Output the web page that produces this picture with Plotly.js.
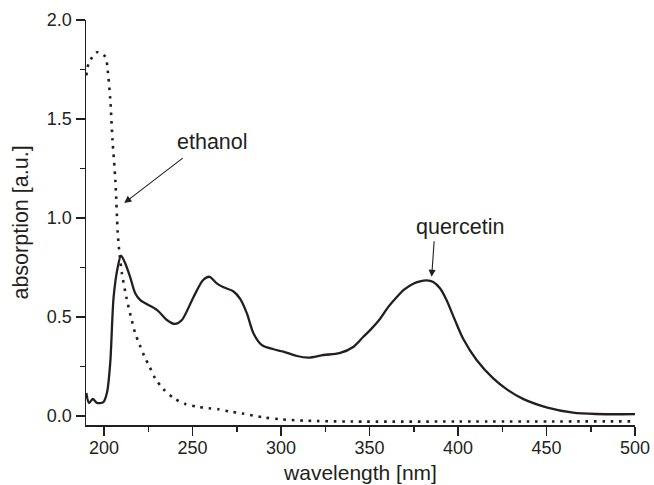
<!DOCTYPE html>
<html>
<head>
<meta charset="utf-8">
<script src="https://cdn.plot.ly/plotly-3.0.1.min.js"></script>
<style>
html,body{margin:0;padding:0;background:#fff;}
#chart{width:654px;height:485px;}
</style>
</head>
<body>
<div id="chart"></div>
<script>
// Quercetin absorption spectrum (solid line)
const quercetinWavelength = [190, 191.5, 193.6, 196, 199.6, 201.7, 203.5, 205.4, 207.7, 209.6, 212, 214.8, 217.6, 220.5, 230, 235.5, 240, 244, 250.5, 256, 259.6, 263.7, 267.5, 273, 277, 280.7, 284.4, 289, 295.7, 301.3, 309, 315.5, 324, 333, 341, 346.5, 351, 355.9, 360.5, 365.3, 369.5, 374.7, 378.5, 382.3, 386, 389.8, 393.5, 398, 402.9, 410.5, 419.9, 428, 437, 450, 465, 478, 500];
const quercetinAbsorption = [0.116, 0.066, 0.086, 0.066, 0.07, 0.12, 0.27, 0.60, 0.75, 0.81, 0.77, 0.70, 0.62, 0.585, 0.535, 0.485, 0.465, 0.485, 0.60, 0.687, 0.703, 0.67, 0.65, 0.63, 0.59, 0.518, 0.418, 0.359, 0.337, 0.325, 0.303, 0.295, 0.308, 0.317, 0.35, 0.40, 0.44, 0.49, 0.55, 0.60, 0.638, 0.668, 0.68, 0.685, 0.677, 0.645, 0.586, 0.49, 0.39, 0.283, 0.19, 0.132, 0.085, 0.044, 0.017, 0.01, 0.009];

// Ethanol absorption spectrum (dotted line)
const ethanolWavelength = [190, 191.3, 196, 200.7, 202, 203.5, 204.8, 206.4, 207.7, 208.5, 210.1, 212.6, 215.2, 217.6, 220.1, 222.7, 225.7, 228.9, 233.6, 239.6, 245.9, 252.5, 259, 264.7, 271.3, 278, 290, 300, 314.5, 340, 400, 500];
const ethanolAbsorption = [1.72, 1.78, 1.837, 1.815, 1.75, 1.60, 1.39, 1.19, 0.93, 0.84, 0.72, 0.60, 0.50, 0.418, 0.36, 0.303, 0.249, 0.19, 0.135, 0.089, 0.061, 0.047, 0.039, 0.034, 0.022, 0.013, -0.007, -0.017, -0.024, -0.028, -0.028, -0.027];

// Axis ticks
const xTickValues = [200, 250, 300, 350, 400, 450, 500];
const xTickLabels = ["200", "250", "300", "350", "400", "450", "500"];
const yTickValues = [0, 0.5, 1.0, 1.5, 2.0];
const yTickLabels = ["0.0", "0.5", "1.0", "1.5", "2.0"];

const ink = '#231f20';
const fontFamily = '"Liberation Sans", Arial, Helvetica, sans-serif';

const traces = [
  {
    x: ethanolWavelength, y: ethanolAbsorption, type: 'scatter', mode: 'lines', name: 'ethanol',
    line: {color: ink, width: 2.6, dash: '2.6px,5.8px', shape: 'spline', smoothing: 0.8},
    hoverinfo: 'skip'
  },
  {
    x: quercetinWavelength, y: quercetinAbsorption, type: 'scatter', mode: 'lines', name: 'quercetin',
    line: {color: ink, width: 2.3, shape: 'spline', smoothing: 0.8},
    hoverinfo: 'skip'
  }
];

const layout = {
  width: 654, height: 485,
  margin: {l: 86, r: 19, t: 20, b: 60, pad: 0},
  paper_bgcolor: '#ffffff', plot_bgcolor: '#ffffff',
  showlegend: false,
  font: {family: fontFamily, size: 18, color: ink},
  xaxis: {
    range: [189.8, 500], showgrid: false, zeroline: false,
    showline: true, linecolor: ink, linewidth: 1.5,
    ticks: 'outside', ticklen: 9, tickwidth: 1.5, tickcolor: ink,
    tickvals: xTickValues, ticktext: xTickLabels, ticklabelstandoff: -3,
    tickfont: {family: fontFamily, size: 18, color: ink},
    minor: {dtick: 25, tick0: 0, ticks: 'outside', ticklen: 5, tickwidth: 1.5, tickcolor: ink, showgrid: false},
    title: {text: 'wavelength [nm]', font: {family: fontFamily, size: 21, color: ink}, standoff: 8},
    fixedrange: true
  },
  yaxis: {
    range: [-0.0455, 2.0], showgrid: false, zeroline: false,
    showline: true, linecolor: ink, linewidth: 1.5,
    ticks: 'outside', ticklen: 9, tickwidth: 1.5, tickcolor: ink,
    tickvals: yTickValues, ticktext: yTickLabels,
    tickfont: {family: fontFamily, size: 18, color: ink},
    minor: {dtick: 0.25, tick0: 0, ticks: 'outside', ticklen: 5, tickwidth: 1.5, tickcolor: ink, showgrid: false},
    title: {text: 'absorption [a.u.]', font: {family: fontFamily, size: 21.5, color: ink}, standoff: 12},
    fixedrange: true
  },
  annotations: [
    {x: 211.4, y: 1.076, xref: 'x', yref: 'y', text: '', showarrow: true,
     ax: 60, ay: -46, arrowhead: 2, arrowsize: 1.3, arrowwidth: 1.1, arrowcolor: ink},
    {x: 261.4, y: 1.384, xref: 'x', yref: 'y', text: 'ethanol', showarrow: false,
     font: {family: fontFamily, size: 21.5, color: ink}},
    {x: 385.1, y: 0.703, xref: 'x', yref: 'y', text: '', showarrow: true,
     ax: 2.6, ay: -37, arrowhead: 2, arrowsize: 1.3, arrowwidth: 1.1, arrowcolor: ink},
    {x: 401.3, y: 0.955, xref: 'x', yref: 'y', text: 'quercetin', showarrow: false,
     font: {family: fontFamily, size: 21.5, color: ink}}
  ]
};

Plotly.newPlot('chart', traces, layout, {staticPlot: true, displayModeBar: false});
</script>
</body>
</html>
